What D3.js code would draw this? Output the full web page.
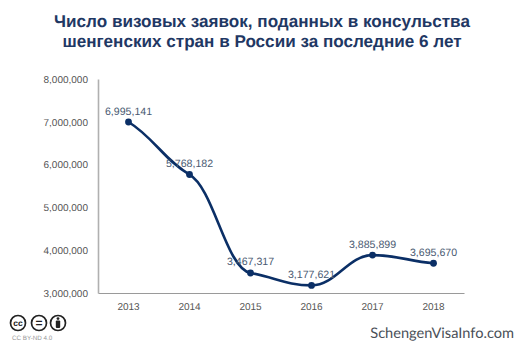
<!DOCTYPE html>
<html>
<head>
<meta charset="utf-8">
<script src="https://d3js.org/d3.v7.min.js"></script>
<style>
  html, body { margin: 0; padding: 0; background: #fff; }
  svg { display: block; }
  text { font-family: "Liberation Sans", Arial, sans-serif; text-rendering: geometricPrecision; }
</style>
</head>
<body>
<div id="chart"></div>
<script>
const years = ["2013", "2014", "2015", "2016", "2017", "2018"];
const applications = [6995141, 5768182, 3467317, 3177621, 3885899, 3695670];
const yTicks = [3000000, 4000000, 5000000, 6000000, 7000000, 8000000];
const titleLines = ["Число визовых заявок, поданных в консульства", "шенгенских стран в России за последние 6 лет"];

const width = 528, height = 351;
const margin = {top: 79, right: 64, bottom: 58, left: 98};

const svg = d3.select("#chart").append("svg")
    .attr("width", width)
    .attr("height", height);

const x = d3.scaleBand()
    .domain(years)
    .range([margin.left, width - margin.right]);
const y = d3.scaleLinear()
    .domain([3000000, 8000000])
    .range([height - margin.bottom, margin.top]);
const cx = d => x(d) + x.bandwidth() / 2;

// monotone-style curve with flatter tangents at the inner points (the original sags into each point)
function flatMonotone(context) {
    let pts = [];
    return {
        lineStart() { pts = []; },
        point(px, py) { pts.push([px, py]); },
        lineEnd() {
            const sec = d3.pairs(pts).map(([a, b]) => (b[1] - a[1]) / (b[0] - a[0]));
            const tan = pts.map((p, i) => {
                if (i === 0) return sec[0] * 0.7;
                if (i === pts.length - 1) return sec[i - 1] * 0.6;
                const s0 = sec[i - 1], s1 = sec[i];
                if (s0 * s1 <= 0) return 0;
                return 0.5 * 2 * s0 * s1 / (s0 + s1);
            });
            context.moveTo(pts[0][0], pts[0][1]);
            for (let i = 1; i < pts.length; i++) {
                const a = pts[i - 1], b = pts[i], h = (b[0] - a[0]) * 0.4;
                context.bezierCurveTo(a[0] + h, a[1] + h * tan[i - 1], b[0] - h, b[1] - h * tan[i], b[0], b[1]);
            }
        },
        areaStart() {},
        areaEnd() {}
    };
}

// Title
svg.append("g").selectAll("text")
    .data(titleLines)
    .enter().append("text")
    .attr("x", 262)
    .attr("y", (d, i) => 27 + i * 20)
    .attr("text-anchor", "middle")
    .attr("font-size", 17.1)
    .attr("font-weight", "bold")
    .attr("fill", "#1f3864")
    .text(d => d);

// X axis
const xAxis = svg.append("g")
    .attr("transform", "translate(0," + (height - margin.bottom) + ")")
    .call(d3.axisBottom(x).tickSize(0).tickPadding(10));
xAxis.select(".domain").attr("stroke", "#9a9a9a").attr("stroke-width", 1.2);
xAxis.selectAll("text").attr("font-size", 10).attr("fill", "#555").style("font-family", "Liberation Sans");

// Y axis
const yAxis = svg.append("g")
    .attr("transform", "translate(" + margin.left + ",0)")
    .call(d3.axisLeft(y).tickValues(yTicks).tickSize(0).tickPadding(10).tickFormat(d3.format(",")));
yAxis.select(".domain").attr("stroke", "#b0b0b0").attr("stroke-width", 1.6);
yAxis.selectAll("text").attr("font-size", 10).attr("fill", "#555").style("font-family", "Liberation Sans");

// Smoothed line
const line = d3.line()
    .x((d, i) => cx(years[i]))
    .y(d => y(d))
    .curve(flatMonotone);

svg.append("path")
    .datum(applications)
    .attr("d", line)
    .attr("fill", "none")
    .attr("stroke", "#0b2f66")
    .attr("stroke-width", 2.6);

svg.selectAll("circle.point")
    .data(applications)
    .enter().append("circle")
    .attr("class", "point")
    .attr("cx", (d, i) => cx(years[i]))
    .attr("cy", d => y(d))
    .attr("r", 3.4)
    .attr("fill", "#0b2f66");

// Value labels
svg.selectAll("text.value")
    .data(applications)
    .enter().append("text")
    .attr("class", "value")
    .attr("x", (d, i) => cx(years[i]))
    .attr("y", d => y(d) - 7.5)
    .attr("text-anchor", "middle")
    .attr("font-size", 10.6)
    .attr("fill", "#4a5a72")
    .text(d => d3.format(",")(d));

// Licence badges
const badges = svg.append("g");
[18, 39, 58].forEach(bx => {
    badges.append("circle")
        .attr("cx", bx).attr("cy", 323).attr("r", 7.5)
        .attr("fill", "#fff").attr("stroke", "#222").attr("stroke-width", 1.7);
});
badges.append("text").attr("x", 18).attr("y", 326)
    .attr("text-anchor", "middle").attr("font-size", 8.5).attr("font-weight", "bold").attr("fill", "#222").text("cc");
badges.append("text").attr("x", 39).attr("y", 327)
    .attr("text-anchor", "middle").attr("font-size", 12).attr("font-weight", "bold").attr("fill", "#222").text("=");
badges.append("circle").attr("cx", 58).attr("cy", 318.6).attr("r", 1.4).attr("fill", "#222");
badges.append("rect").attr("x", 55.8).attr("y", 320.6).attr("width", 4.4).attr("height", 7.4).attr("rx", 1).attr("fill", "#222");

svg.append("text")
    .attr("x", 12).attr("y", 339.5)
    .attr("font-size", 6.3).attr("fill", "#999")
    .text("CC BY-ND 4.0");

// Watermark
svg.append("text")
    .attr("x", 514).attr("y", 338)
    .attr("text-anchor", "end")
    .attr("font-size", 14.6)
    .attr("fill", "#4a5058")
    .style("font-family", "Lato")
    .text("SchengenVisaInfo.com");
</script>
</body>
</html>
